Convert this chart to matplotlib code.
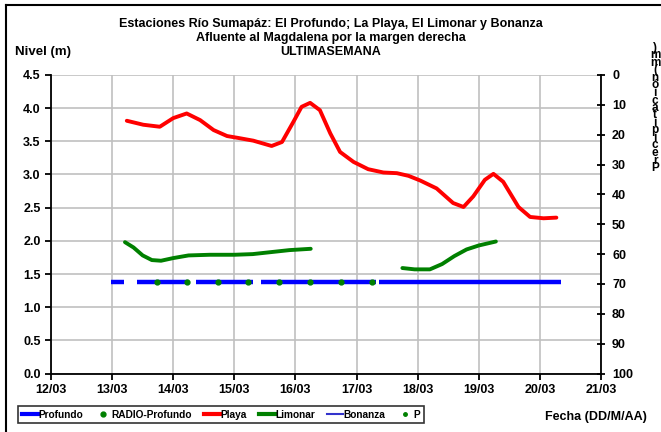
import numpy as np
import matplotlib
matplotlib.use("Agg")
import matplotlib.pyplot as plt
from matplotlib.lines import Line2D

plt.rcParams['font.family'] = ['Liberation Sans', 'DejaVu Sans']
plt.rcParams['font.weight'] = 'bold'

# ---- data (x = day of March, fractional) ----
x_ticks = [12, 13, 14, 15, 16, 17, 18, 19, 20, 21]
x_labels = ["12/03", "13/03", "14/03", "15/03", "16/03", "17/03", "18/03", "19/03", "20/03", "21/03"]
y_ticks = [0.0, 0.5, 1.0, 1.5, 2.0, 2.5, 3.0, 3.5, 4.0, 4.5]
p_ticks = [0, 10, 20, 30, 40, 50, 60, 70, 80, 90, 100]

playa_t = [13.24, 13.51, 13.78, 14.00, 14.22, 14.44, 14.66, 14.88, 15.07, 15.31, 15.61,
           15.78, 15.97, 16.10, 16.24, 16.40, 16.57, 16.73, 16.95, 17.19, 17.44, 17.66,
           17.85, 18.04, 18.31, 18.58, 18.75, 18.91, 19.10, 19.24, 19.40, 19.65, 19.84,
           20.06, 20.27]
playa_v = [3.81, 3.75, 3.72, 3.85, 3.92, 3.82, 3.67, 3.58, 3.55, 3.51, 3.43,
           3.49, 3.80, 4.02, 4.08, 3.97, 3.62, 3.34, 3.19, 3.08, 3.03, 3.02,
           2.98, 2.91, 2.79, 2.57, 2.51, 2.67, 2.92, 3.01, 2.89, 2.51, 2.36,
           2.34, 2.35]

limonar_t = [13.21, 13.35, 13.50, 13.65, 13.80, 14.00, 14.25, 14.60, 15.00, 15.30, 15.60, 15.90, 16.25,
             np.nan,
             17.75, 17.95, 18.20, 18.40, 18.60, 18.80, 19.00, 19.28]
limonar_v = [1.98, 1.90, 1.78, 1.71, 1.70, 1.74, 1.78, 1.79, 1.79, 1.80, 1.83, 1.86, 1.88,
             np.nan,
             1.59, 1.57, 1.57, 1.65, 1.77, 1.87, 1.93, 1.99]

profundo_t = [12.98, 13.20, np.nan, 13.40, 14.24, np.nan, 14.38, 15.31, np.nan,
              15.43, 17.31, np.nan, 17.36, 20.34]
profundo_v = [1.38, 1.38, np.nan, 1.38, 1.38, np.nan, 1.38, 1.38, np.nan,
              1.38, 1.38, np.nan, 1.38, 1.38]

radio_t = [13.73, 14.23, 14.73, 15.23, 15.73, 16.23, 16.74, 17.25]
radio_v = [1.38, 1.38, 1.38, 1.38, 1.38, 1.38, 1.38, 1.38]

# ---- figure ----
fig = plt.figure(figsize=(6.61, 4.32), dpi=100)
ax = fig.add_axes([0.0772, 0.1354, 0.832, 0.691])

ax.set_xlim(12, 21)
ax.set_ylim(0, 4.5)
ax.set_xticks(x_ticks)
ax.set_xticklabels(x_labels)
ax.set_yticks(y_ticks)
ax.set_yticklabels([f"{v:.1f}" for v in y_ticks])
ax.grid(True, color='#c0c0c0', linewidth=1.2)
ax.set_axisbelow(True)
for s in ['left', 'bottom']:
    ax.spines[s].set_linewidth(1.3)
ax.spines['top'].set_visible(False)
ax.spines['right'].set_visible(False)
ax.tick_params(axis='both', labelsize=9, width=1.3, length=4, direction='out')

ax.plot(profundo_t, profundo_v, color='#0000ff', lw=3.2, solid_capstyle='butt', zorder=3)
ax.plot(radio_t, radio_v, 'o', color='#008000', ms=3.5, zorder=4)
ax.plot(playa_t, playa_v, color='#ff0000', lw=2.8, zorder=3,
        solid_joinstyle='round', solid_capstyle='round')
ax.plot(limonar_t, limonar_v, color='#008000', lw=2.8, zorder=3,
        solid_joinstyle='round', solid_capstyle='round')

ax2 = ax.twinx()
ax2.set_ylim(100, 0)
ax2.set_yticks(p_ticks)
for s in ['left', 'top', 'bottom']:
    ax2.spines[s].set_visible(False)
ax2.spines['right'].set_linewidth(1.3)
ax2.tick_params(axis='y', labelsize=9, width=1.3, length=6, direction='inout', pad=5)

# titles
fig.text(0.5, 0.945, "Estaciones Río Sumapáz: El Profundo; La Playa, El Limonar y Bonanza",
         ha='center', va='center', fontsize=9, fontweight='bold')
fig.text(0.5, 0.912, "Afluente al Magdalena por la margen derecha",
         ha='center', va='center', fontsize=9, fontweight='bold')
fig.text(0.5, 0.879, "ULTIMASEMANA",
         ha='center', va='center', fontsize=9, fontweight='bold')
fig.text(0.023, 0.879, "Nivel (m)", ha='left', va='center', fontsize=9.5, fontweight='bold')
fig.text(0.825, 0.035, "Fecha (DD/M/AA)", ha='left', va='center', fontsize=9, fontweight='bold')

# squashed stacked right-axis title, as in the reference (one text object)
ptitle = "Precipitación (mm)"
stacked = "\n".join(reversed(ptitle.replace(" ", "")))
fig.text(655 / 661, 1 - 108 / 432, stacked, ha='center', va='center',
         fontsize=8.5, fontweight='bold', linespacing=0.5, multialignment='center')

# legend
handles = [
    Line2D([], [], color='#0000ff', lw=3),
    Line2D([], [], color='#008000', marker='o', ls='none', ms=3.5),
    Line2D([], [], color='#ff0000', lw=3),
    Line2D([], [], color='#008000', lw=3),
    Line2D([], [], color='#3333cc', lw=1.5),
    Line2D([], [], color='#008000', marker='o', ls='none', ms=2.5),
]
labels = ["Profundo", "RADIO-Profundo", "Playa", "Limonar", "Bonanza", "P"]
leg = fig.legend(handles, labels, loc='center left', bbox_to_anchor=(0.02, 0.04),
                 ncol=6, frameon=True, fancybox=False, edgecolor='black',
                 handlelength=1.6, handletextpad=0.05, columnspacing=1.15, borderpad=0.35,
                 prop={'weight': 'bold', 'size': 7.3})
leg.get_frame().set_linewidth(1.2)

# outer border (left and top visible)
fig.add_artist(Line2D([0.009, 0.009], [0.0, 0.988], transform=fig.transFigure, color='black', lw=1.5))
fig.add_artist(Line2D([0.009, 1.0], [0.988, 0.988], transform=fig.transFigure, color='black', lw=1.5))

fig.savefig("out.png", dpi=100)
